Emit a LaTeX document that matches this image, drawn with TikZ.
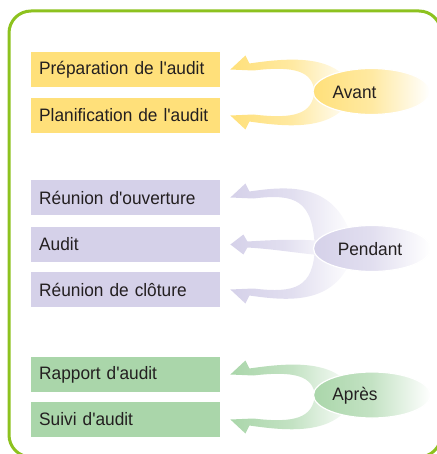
\documentclass[tikz,border=0pt]{standalone}
\usepackage{fontspec}
\setmainfont{Liberation Sans}[Ligatures=TeXOff,FakeStretch=0.96]
\usetikzlibrary{shapes.geometric,calc}

\definecolor{rim}{RGB}{141,194,31}
\definecolor{ink}{RGB}{35,31,32}
\definecolor{avantc}{RGB}{255,224,122}
\definecolor{pendantc}{RGB}{213,209,233}
\definecolor{apresc}{RGB}{170,214,170}

% curved arrow from a phase ellipse back to one step box
% #1 box, #2 ellipse, #3 side (1 above, -1 below), #4 colour
\newcommand\swoosh[4]{%
 \shade[left color=#4,right color=white,middle color=#4!70]
  let \p1=(#1.east), \p2=(#2.west) in
  ({\x1+10pt},{\y1}) -- ({\x1+25pt},{\y1+(#3)*14pt}) -- ({\x1+29pt},{\y1+(#3)*6pt})
  .. controls ({\x1+70pt},{\y1+(#3)*12pt}) and ({\x2+27pt},{\y1+(#3)*16pt}) .. ({\x2+42pt},{\y2})
  -- ({\x2+2pt},{\y2})
  .. controls ({\x2},{\y1-(#3)*2pt}) and ({\x1+75pt},{\y1+(#3)*4pt}) .. ({\x1+33pt},{\y1-(#3)*1pt})
  -- cycle;}
% straight arrow for the middle box
\newcommand\midswoosh[3]{%
 \shade[left color=#3,right color=white,middle color=#3!70]
  let \p1=(#1.east), \p2=(#2.west) in
  ({\x1+10pt},{\y1}) -- ({\x1+23pt},{\y1+10pt}) -- ({\x1+27pt},{\y1+3pt})
  .. controls ({\x1+60pt},{\y1+5pt}) and ({\x2-10pt},{\y2+10pt}) .. ({\x2+25pt},{\y2+6pt})
  -- ({\x2+25pt},{\y2-8pt})
  .. controls ({\x2-10pt},{\y2-6pt}) and ({\x1+60pt},{\y1-5pt}) .. ({\x1+27pt},{\y1-3pt})
  -- ({\x1+23pt},{\y1-10pt}) -- cycle;}

\begin{document}
\begin{tikzpicture}[x=1pt,y=-1pt,
 stepbox/.style={anchor=west,minimum width=189pt,minimum height=35pt,inner xsep=8pt,
                 text width=173pt,align=left,text=ink,font=\fontsize{18}{20}\selectfont},
 phase/.style={ellipse,draw=white,line width=1.2pt,minimum width=117pt,minimum height=46pt,
               inner sep=0pt},
 lab/.style={text=ink,inner sep=0pt,font=\fontsize{18}{20}\selectfont}]
\useasboundingbox (0,0) rectangle (436,454);
\draw[rim,line width=3pt,rounded corners=22pt] (9,11) rectangle (441,457);

% avant
\node[stepbox,fill=avantc] (prep) at (31,69.5) {Préparation de l'audit};
\node[stepbox,fill=avantc] (plan) at (31,115.5) {Planification de l'audit};
\node[phase] (avant) at (371.5,91.5) {};
\swoosh{prep}{avant}{1}{avantc}
\swoosh{plan}{avant}{-1}{avantc}
\node[phase,left color=avantc,right color=white,middle color=avantc!70] (avant) at (371.5,91.5) {};
\node[lab] (avantlab) at (354.5,92) {Avant};

% pendant
\node[stepbox,fill=pendantc] (ouv) at (31,197.5) {Réunion d'ouverture};
\node[stepbox,fill=pendantc] (aud) at (31,244.5) {Audit};
\node[stepbox,fill=pendantc] (clo) at (31,289.5) {Réunion de clôture};
\node[phase] (pendant) at (372,248.5) {};
\swoosh{ouv}{pendant}{1}{pendantc}
\midswoosh{aud}{pendant}{pendantc}
\swoosh{clo}{pendant}{-1}{pendantc}
\node[phase,left color=pendantc,right color=white,middle color=pendantc!70] (pendant) at (372,248.5) {};
\node[lab] (pendantlab) at (370,249) {Pendant};

% après
\node[stepbox,fill=apresc] (rapp) at (31,374.5) {Rapport d'audit};
\node[stepbox,fill=apresc] (suivi) at (31,419.5) {Suivi d'audit};
\node[phase] (apres) at (372,395) {};
\swoosh{rapp}{apres}{1}{apresc}
\swoosh{suivi}{apres}{-1}{apresc}
\node[phase,left color=apresc,right color=white,middle color=apresc!70] (apres) at (372,395) {};
\node[lab] (apreslab) at (355,395.5) {Après};
\end{tikzpicture}
\end{document}
